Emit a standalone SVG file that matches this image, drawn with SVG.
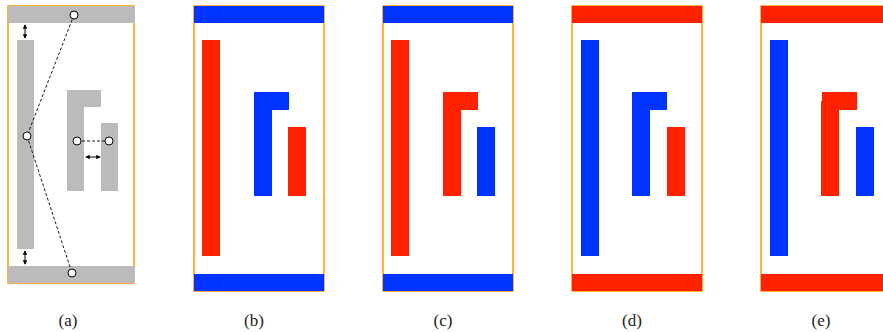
<svg xmlns="http://www.w3.org/2000/svg" width="883" height="332" viewBox="0 0 883 332">
<defs>
<marker id="ah" viewBox="0 0 6 6" refX="5" refY="3" markerWidth="4.5" markerHeight="4.5" orient="auto-start-reverse">
<path d="M0,0 L6,3 L0,6 z" fill="#000"/>
</marker>
<style>
.frame{fill:none;stroke:#FF9900;stroke-width:1.5}
.g{fill:#BBBBBB}
.r{fill:#FF2200}
.b{fill:#0033FF}
.dash{stroke:#000;stroke-width:0.9;stroke-dasharray:3,2;fill:none}
.arr{stroke:#000;stroke-width:1;fill:none;marker-start:url(#ah);marker-end:url(#ah)}
.pt{fill:#fff;stroke:#000;stroke-width:1}
.lbl{font-family:"Liberation Serif","DejaVu Serif",serif;font-size:17px;fill:#222;text-anchor:middle}
</style>
</defs>

<g id="panel-a">
<rect class="frame" x="8" y="6" width="126" height="277"/>
<rect class="g" x="8" y="6" width="127" height="17"/>
<rect class="g" x="8" y="266" width="127" height="17"/>
<rect class="g" x="17" y="40" width="17" height="209"/>
<path class="g" d="M67,90 H101 V107 H84 V191 H67 Z"/>
<rect class="g" x="101" y="123" width="17" height="68"/>
</g>

<g id="connectors">
<line class="dash" x1="74" y1="15" x2="27" y2="136"/>
<line class="dash" x1="27" y1="136" x2="72" y2="273"/>
<line class="dash" x1="77" y1="141" x2="109" y2="141"/>
<line class="arr" x1="25" y1="25" x2="25" y2="38"/>
<line class="arr" x1="25" y1="251" x2="25" y2="264"/>
<line class="arr" x1="86" y1="157" x2="100" y2="157"/>
</g>

<g id="points">
<circle class="pt" cx="74" cy="15" r="4"/>
<circle class="pt" cx="27" cy="136" r="4"/>
<circle class="pt" cx="72" cy="273" r="4"/>
<circle class="pt" cx="77" cy="141" r="4"/>
<circle class="pt" cx="109" cy="141" r="4"/>
</g>

<g id="panel-b">
<rect class="frame" x="194" y="6" width="130" height="285"/>
<rect class="b" x="194" y="6" width="130" height="17"/>
<rect class="b" x="194" y="274" width="130" height="17"/>
<rect class="r" x="202" y="40" width="18" height="216"/>
<path class="b" d="M254,92 H289 V110 H272 V196 H254 Z"/>
<rect class="r" x="288" y="127" width="18" height="69"/>
</g>

<g id="panel-c">
<rect class="frame" x="383" y="6" width="130" height="285"/>
<rect class="b" x="383" y="6" width="130" height="17"/>
<rect class="b" x="383" y="274" width="130" height="17"/>
<rect class="r" x="391" y="40" width="18" height="216"/>
<path class="r" d="M443,92 H478 V110 H461 V196 H443 Z"/>
<rect class="b" x="477" y="127" width="18" height="69"/>
</g>

<g id="panel-d">
<rect class="frame" x="572" y="6" width="130" height="285"/>
<rect class="r" x="572" y="6" width="130" height="17"/>
<rect class="r" x="572" y="274" width="130" height="17"/>
<rect class="b" x="581" y="40" width="18" height="216"/>
<path class="b" d="M632,92 H667 V110 H650 V196 H632 Z"/>
<rect class="r" x="667" y="127" width="18" height="69"/>
</g>

<g id="panel-e">
<rect class="frame" x="761" y="6" width="130" height="285"/>
<rect class="r" x="761" y="6" width="130" height="17"/>
<rect class="r" x="761" y="274" width="130" height="17"/>
<rect class="b" x="770" y="40" width="18" height="216"/>
<rect class="r" x="822" y="92" width="35" height="18"/>
<rect class="r" x="821" y="101" width="18" height="95"/>
<rect class="b" x="856" y="127" width="18" height="69"/>
</g>

<g id="labels">
<text class="lbl" x="68" y="326">(a)</text>
<text class="lbl" x="254" y="326">(b)</text>
<text class="lbl" x="443" y="326">(c)</text>
<text class="lbl" x="632" y="326">(d)</text>
<text class="lbl" x="821" y="326">(e)</text>
</g>
</svg>
